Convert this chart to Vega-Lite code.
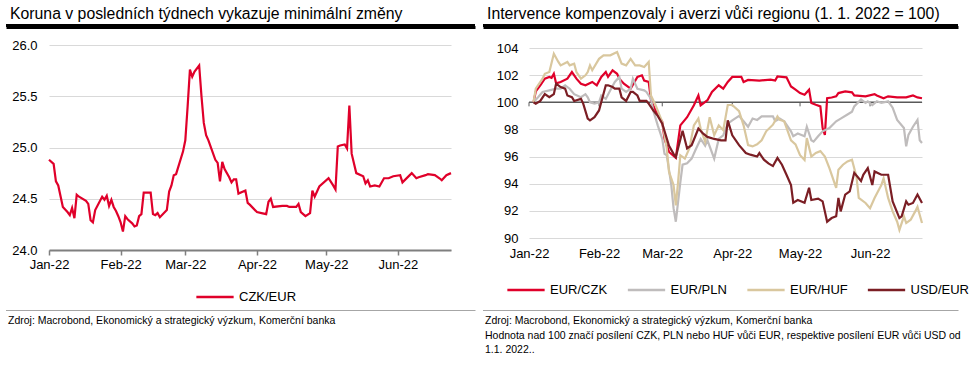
{
  "$schema": "https://vega.github.io/schema/vega-lite/v6.json",
  "padding": {"left": 6, "top": 6, "right": 0, "bottom": 0},
  "resolve": {"scale": {"color": "independent"}, "legend": {"color": "independent"}},
  "config": {
    "font": "Liberation Sans",
    "view": {"stroke": null},
    "title": {"font": "Liberation Sans", "fontWeight": "normal", "color": "#000000"},
    "axis": {"labelFont": "Liberation Sans", "labelFontSize": 13, "labelColor": "#000000"},
    "legend": {"labelFont": "Liberation Sans", "labelFontSize": 13, "labelColor": "#000000"}
  },
  "datasets": {
    "czk": [
      {"d":"2022-01-01","v":24.88},{"d":"2022-01-03","v":24.84},{"d":"2022-01-04","v":24.67},{"d":"2022-01-05","v":24.63},
      {"d":"2022-01-07","v":24.42},{"d":"2022-01-09","v":24.37},{"d":"2022-01-10","v":24.34},{"d":"2022-01-11","v":24.41},
      {"d":"2022-01-12","v":24.31},{"d":"2022-01-13","v":24.54},{"d":"2022-01-14","v":24.52},{"d":"2022-01-17","v":24.48},
      {"d":"2022-01-18","v":24.45},{"d":"2022-01-19","v":24.29},{"d":"2022-01-20","v":24.27},{"d":"2022-01-21","v":24.39},
      {"d":"2022-01-24","v":24.52},{"d":"2022-01-25","v":24.49},{"d":"2022-01-26","v":24.53},{"d":"2022-01-27","v":24.43},
      {"d":"2022-01-28","v":24.49},{"d":"2022-01-29","v":24.42},{"d":"2022-01-30","v":24.38},{"d":"2022-01-31","v":24.33},
      {"d":"2022-02-01","v":24.27},{"d":"2022-02-02","v":24.18},{"d":"2022-02-03","v":24.33},{"d":"2022-02-04","v":24.30},
      {"d":"2022-02-06","v":24.26},{"d":"2022-02-07","v":24.23},{"d":"2022-02-08","v":24.24},{"d":"2022-02-09","v":24.33},
      {"d":"2022-02-10","v":24.35},{"d":"2022-02-11","v":24.56},{"d":"2022-02-14","v":24.56},{"d":"2022-02-15","v":24.35},
      {"d":"2022-02-16","v":24.34},{"d":"2022-02-17","v":24.36},{"d":"2022-02-18","v":24.32},{"d":"2022-02-21","v":24.39},
      {"d":"2022-02-22","v":24.57},{"d":"2022-02-23","v":24.63},{"d":"2022-02-24","v":24.73},{"d":"2022-02-25","v":24.74},
      {"d":"2022-02-28","v":24.96},{"d":"2022-03-01","v":25.07},{"d":"2022-03-02","v":25.40},{"d":"2022-03-03","v":25.76},
      {"d":"2022-03-04","v":25.69},{"d":"2022-03-05","v":25.74},{"d":"2022-03-07","v":25.80},{"d":"2022-03-08","v":25.50},
      {"d":"2022-03-09","v":25.24},{"d":"2022-03-10","v":25.12},{"d":"2022-03-11","v":25.07},{"d":"2022-03-14","v":24.88},
      {"d":"2022-03-15","v":24.85},{"d":"2022-03-16","v":24.67},{"d":"2022-03-17","v":24.86},{"d":"2022-03-18","v":24.79},
      {"d":"2022-03-20","v":24.71},{"d":"2022-03-21","v":24.66},{"d":"2022-03-22","v":24.69},{"d":"2022-03-23","v":24.69},
      {"d":"2022-03-24","v":24.55},{"d":"2022-03-27","v":24.58},{"d":"2022-03-28","v":24.46},{"d":"2022-03-29","v":24.44},
      {"d":"2022-04-01","v":24.37},{"d":"2022-04-03","v":24.36},{"d":"2022-04-05","v":24.35},{"d":"2022-04-06","v":24.47},
      {"d":"2022-04-07","v":24.50},{"d":"2022-04-08","v":24.42},{"d":"2022-04-12","v":24.43},{"d":"2022-04-14","v":24.43},
      {"d":"2022-04-15","v":24.42},{"d":"2022-04-18","v":24.42},{"d":"2022-04-19","v":24.45},{"d":"2022-04-20","v":24.37},
      {"d":"2022-04-22","v":24.33},{"d":"2022-04-24","v":24.36},{"d":"2022-04-25","v":24.58},{"d":"2022-04-26","v":24.52},
      {"d":"2022-04-28","v":24.62},{"d":"2022-05-02","v":24.70},{"d":"2022-05-04","v":24.63},{"d":"2022-05-05","v":24.59},
      {"d":"2022-05-06","v":25.01},{"d":"2022-05-07","v":25.02},{"d":"2022-05-09","v":25.03},{"d":"2022-05-10","v":24.99},
      {"d":"2022-05-11","v":25.41},{"d":"2022-05-12","v":24.94},{"d":"2022-05-14","v":24.75},{"d":"2022-05-17","v":24.72},
      {"d":"2022-05-18","v":24.65},{"d":"2022-05-19","v":24.68},{"d":"2022-05-20","v":24.62},{"d":"2022-05-22","v":24.63},
      {"d":"2022-05-24","v":24.62},{"d":"2022-05-26","v":24.70},{"d":"2022-05-28","v":24.70},{"d":"2022-05-30","v":24.72},
      {"d":"2022-06-02","v":24.73},{"d":"2022-06-03","v":24.66},{"d":"2022-06-07","v":24.75},{"d":"2022-06-09","v":24.70},
      {"d":"2022-06-10","v":24.71},{"d":"2022-06-13","v":24.73},{"d":"2022-06-14","v":24.74},{"d":"2022-06-17","v":24.73},
      {"d":"2022-06-19","v":24.70},{"d":"2022-06-20","v":24.68},{"d":"2022-06-22","v":24.73},{"d":"2022-06-24","v":24.75}
    ],
    "fx": [
      {"d":"2022-01-03","s":"EUR/CZK","v":100},{"d":"2022-01-04","s":"EUR/CZK","v":100.8},{"d":"2022-01-06","s":"EUR/CZK","v":101.25},
      {"d":"2022-01-08","s":"EUR/CZK","v":101.74},{"d":"2022-01-10","s":"EUR/CZK","v":101.87},{"d":"2022-01-11","s":"EUR/CZK","v":101.8},
      {"d":"2022-01-12","s":"EUR/CZK","v":102.1},{"d":"2022-01-13","s":"EUR/CZK","v":101.4},{"d":"2022-01-15","s":"EUR/CZK","v":101.5},
      {"d":"2022-01-18","s":"EUR/CZK","v":101.74},{"d":"2022-01-20","s":"EUR/CZK","v":102.23},{"d":"2022-01-22","s":"EUR/CZK","v":101.74},
      {"d":"2022-01-24","s":"EUR/CZK","v":101.37},{"d":"2022-01-26","s":"EUR/CZK","v":101.25},{"d":"2022-01-29","s":"EUR/CZK","v":101.5},
      {"d":"2022-01-31","s":"EUR/CZK","v":101.25},{"d":"2022-02-02","s":"EUR/CZK","v":101.87},{"d":"2022-02-04","s":"EUR/CZK","v":102.23},
      {"d":"2022-02-05","s":"EUR/CZK","v":101.87},{"d":"2022-02-07","s":"EUR/CZK","v":102.35},{"d":"2022-02-09","s":"EUR/CZK","v":102.1},
      {"d":"2022-02-10","s":"EUR/CZK","v":101.74},{"d":"2022-02-12","s":"EUR/CZK","v":101.37},{"d":"2022-02-15","s":"EUR/CZK","v":101.0},
      {"d":"2022-02-18","s":"EUR/CZK","v":101.87},{"d":"2022-02-20","s":"EUR/CZK","v":101.99},{"d":"2022-02-21","s":"EUR/CZK","v":101.6},
      {"d":"2022-02-23","s":"EUR/CZK","v":101.5},{"d":"2022-02-24","s":"EUR/CZK","v":100.15},{"d":"2022-02-26","s":"EUR/CZK","v":99.4},
      {"d":"2022-03-01","s":"EUR/CZK","v":98.55},{"d":"2022-03-02","s":"EUR/CZK","v":97.3},{"d":"2022-03-04","s":"EUR/CZK","v":96.34},
      {"d":"2022-03-07","s":"EUR/CZK","v":95.9},{"d":"2022-03-09","s":"EUR/CZK","v":98.3},{"d":"2022-03-12","s":"EUR/CZK","v":98.9},
      {"d":"2022-03-15","s":"EUR/CZK","v":99.78},{"d":"2022-03-17","s":"EUR/CZK","v":100.5},{"d":"2022-03-18","s":"EUR/CZK","v":99.78},
      {"d":"2022-03-21","s":"EUR/CZK","v":100.15},{"d":"2022-03-23","s":"EUR/CZK","v":100.76},{"d":"2022-03-26","s":"EUR/CZK","v":101.25},
      {"d":"2022-03-28","s":"EUR/CZK","v":101.0},{"d":"2022-03-30","s":"EUR/CZK","v":101.5},{"d":"2022-04-01","s":"EUR/CZK","v":101.87},
      {"d":"2022-04-05","s":"EUR/CZK","v":101.87},{"d":"2022-04-06","s":"EUR/CZK","v":101.5},{"d":"2022-04-08","s":"EUR/CZK","v":101.65},
      {"d":"2022-04-13","s":"EUR/CZK","v":101.6},{"d":"2022-04-18","s":"EUR/CZK","v":101.67},{"d":"2022-04-20","s":"EUR/CZK","v":101.6},
      {"d":"2022-04-21","s":"EUR/CZK","v":101.9},{"d":"2022-04-25","s":"EUR/CZK","v":101.84},{"d":"2022-04-27","s":"EUR/CZK","v":101.17},
      {"d":"2022-04-29","s":"EUR/CZK","v":100.93},{"d":"2022-05-01","s":"EUR/CZK","v":100.68},{"d":"2022-05-03","s":"EUR/CZK","v":100.56},
      {"d":"2022-05-05","s":"EUR/CZK","v":100.93},{"d":"2022-05-06","s":"EUR/CZK","v":99.95},{"d":"2022-05-08","s":"EUR/CZK","v":99.82},
      {"d":"2022-05-10","s":"EUR/CZK","v":99.7},{"d":"2022-05-11","s":"EUR/CZK","v":98.1},{"d":"2022-05-12","s":"EUR/CZK","v":97.6},
      {"d":"2022-05-13","s":"EUR/CZK","v":100.3},{"d":"2022-05-15","s":"EUR/CZK","v":100.35},{"d":"2022-05-17","s":"EUR/CZK","v":100.44},
      {"d":"2022-05-18","s":"EUR/CZK","v":100.68},{"d":"2022-05-21","s":"EUR/CZK","v":100.8},{"d":"2022-05-24","s":"EUR/CZK","v":100.73},
      {"d":"2022-05-25","s":"EUR/CZK","v":100.51},{"d":"2022-05-30","s":"EUR/CZK","v":100.44},{"d":"2022-06-03","s":"EUR/CZK","v":100.6},
      {"d":"2022-06-04","s":"EUR/CZK","v":100.5},{"d":"2022-06-07","s":"EUR/CZK","v":100.3},{"d":"2022-06-09","s":"EUR/CZK","v":100.44},
      {"d":"2022-06-13","s":"EUR/CZK","v":100.36},{"d":"2022-06-17","s":"EUR/CZK","v":100.36},{"d":"2022-06-20","s":"EUR/CZK","v":100.5},
      {"d":"2022-06-22","s":"EUR/CZK","v":100.36},{"d":"2022-06-24","s":"EUR/CZK","v":100.3},

      {"d":"2022-01-03","s":"EUR/PLN","v":100},{"d":"2022-01-05","s":"EUR/PLN","v":100.37},{"d":"2022-01-07","s":"EUR/PLN","v":100.76},
      {"d":"2022-01-10","s":"EUR/PLN","v":100.88},{"d":"2022-01-13","s":"EUR/PLN","v":101.0},{"d":"2022-01-15","s":"EUR/PLN","v":101.0},
      {"d":"2022-01-17","s":"EUR/PLN","v":101.25},{"d":"2022-01-19","s":"EUR/PLN","v":101.0},{"d":"2022-01-21","s":"EUR/PLN","v":100.6},
      {"d":"2022-01-24","s":"EUR/PLN","v":100.37},{"d":"2022-01-26","s":"EUR/PLN","v":100.6},{"d":"2022-01-27","s":"EUR/PLN","v":100.37},
      {"d":"2022-01-28","s":"EUR/PLN","v":100.0},{"d":"2022-01-30","s":"EUR/PLN","v":99.9},{"d":"2022-02-01","s":"EUR/PLN","v":100.0},
      {"d":"2022-02-02","s":"EUR/PLN","v":100.5},{"d":"2022-02-04","s":"EUR/PLN","v":100.25},{"d":"2022-02-06","s":"EUR/PLN","v":100.88},
      {"d":"2022-02-08","s":"EUR/PLN","v":101.5},{"d":"2022-02-10","s":"EUR/PLN","v":101.87},{"d":"2022-02-11","s":"EUR/PLN","v":101.0},
      {"d":"2022-02-13","s":"EUR/PLN","v":100.76},{"d":"2022-02-15","s":"EUR/PLN","v":101.0},{"d":"2022-02-16","s":"EUR/PLN","v":101.74},
      {"d":"2022-02-18","s":"EUR/PLN","v":101.0},{"d":"2022-02-21","s":"EUR/PLN","v":100.88},{"d":"2022-02-22","s":"EUR/PLN","v":100.76},
      {"d":"2022-02-24","s":"EUR/PLN","v":100.25},{"d":"2022-02-25","s":"EUR/PLN","v":99.4},{"d":"2022-02-27","s":"EUR/PLN","v":98.3},
      {"d":"2022-03-01","s":"EUR/PLN","v":97.3},{"d":"2022-03-02","s":"EUR/PLN","v":96.2},{"d":"2022-03-03","s":"EUR/PLN","v":96.1},
      {"d":"2022-03-05","s":"EUR/PLN","v":93.9},{"d":"2022-03-06","s":"EUR/PLN","v":92.2},{"d":"2022-03-07","s":"EUR/PLN","v":91.2},
      {"d":"2022-03-09","s":"EUR/PLN","v":94.1},{"d":"2022-03-10","s":"EUR/PLN","v":95.4},{"d":"2022-03-12","s":"EUR/PLN","v":95.5},
      {"d":"2022-03-14","s":"EUR/PLN","v":95.85},{"d":"2022-03-16","s":"EUR/PLN","v":96.6},{"d":"2022-03-18","s":"EUR/PLN","v":97.3},
      {"d":"2022-03-20","s":"EUR/PLN","v":96.8},{"d":"2022-03-21","s":"EUR/PLN","v":97.2},{"d":"2022-03-24","s":"EUR/PLN","v":95.85},
      {"d":"2022-03-26","s":"EUR/PLN","v":97.3},{"d":"2022-03-28","s":"EUR/PLN","v":97.57},{"d":"2022-03-30","s":"EUR/PLN","v":98.43},
      {"d":"2022-04-01","s":"EUR/PLN","v":98.67},{"d":"2022-04-04","s":"EUR/PLN","v":99.0},{"d":"2022-04-06","s":"EUR/PLN","v":98.6},
      {"d":"2022-04-08","s":"EUR/PLN","v":98.2},{"d":"2022-04-10","s":"EUR/PLN","v":98.8},{"d":"2022-04-12","s":"EUR/PLN","v":98.7},
      {"d":"2022-04-14","s":"EUR/PLN","v":98.96},{"d":"2022-04-16","s":"EUR/PLN","v":98.96},{"d":"2022-04-19","s":"EUR/PLN","v":98.96},
      {"d":"2022-04-20","s":"EUR/PLN","v":98.6},{"d":"2022-04-22","s":"EUR/PLN","v":98.8},{"d":"2022-04-24","s":"EUR/PLN","v":98.6},
      {"d":"2022-04-27","s":"EUR/PLN","v":97.86},{"d":"2022-04-28","s":"EUR/PLN","v":97.5},{"d":"2022-04-30","s":"EUR/PLN","v":97.7},
      {"d":"2022-05-03","s":"EUR/PLN","v":97.5},{"d":"2022-05-04","s":"EUR/PLN","v":98.2},{"d":"2022-05-06","s":"EUR/PLN","v":97.2},
      {"d":"2022-05-07","s":"EUR/PLN","v":97.1},{"d":"2022-05-09","s":"EUR/PLN","v":97.5},{"d":"2022-05-11","s":"EUR/PLN","v":97.86},
      {"d":"2022-05-14","s":"EUR/PLN","v":98.1},{"d":"2022-05-17","s":"EUR/PLN","v":98.6},{"d":"2022-05-19","s":"EUR/PLN","v":98.8},
      {"d":"2022-05-22","s":"EUR/PLN","v":99.1},{"d":"2022-05-24","s":"EUR/PLN","v":99.3},{"d":"2022-05-25","s":"EUR/PLN","v":99.7},
      {"d":"2022-05-28","s":"EUR/PLN","v":100.2},{"d":"2022-05-30","s":"EUR/PLN","v":99.95},{"d":"2022-05-31","s":"EUR/PLN","v":100.07},
      {"d":"2022-06-02","s":"EUR/PLN","v":99.8},{"d":"2022-06-04","s":"EUR/PLN","v":100.07},{"d":"2022-06-06","s":"EUR/PLN","v":99.95},
      {"d":"2022-06-09","s":"EUR/PLN","v":100.07},{"d":"2022-06-11","s":"EUR/PLN","v":99.6},{"d":"2022-06-13","s":"EUR/PLN","v":98.7},
      {"d":"2022-06-16","s":"EUR/PLN","v":98.1},{"d":"2022-06-17","s":"EUR/PLN","v":96.75},{"d":"2022-06-18","s":"EUR/PLN","v":97.6},
      {"d":"2022-06-20","s":"EUR/PLN","v":98.2},{"d":"2022-06-22","s":"EUR/PLN","v":98.7},{"d":"2022-06-23","s":"EUR/PLN","v":97.2},
      {"d":"2022-06-24","s":"EUR/PLN","v":97.0},

      {"d":"2022-01-03","s":"EUR/HUF","v":100},{"d":"2022-01-04","s":"EUR/HUF","v":101.0},{"d":"2022-01-07","s":"EUR/HUF","v":101.74},
      {"d":"2022-01-08","s":"EUR/HUF","v":102.1},{"d":"2022-01-10","s":"EUR/HUF","v":102.23},{"d":"2022-01-12","s":"EUR/HUF","v":103.58},
      {"d":"2022-01-14","s":"EUR/HUF","v":102.97},{"d":"2022-01-15","s":"EUR/HUF","v":102.72},{"d":"2022-01-18","s":"EUR/HUF","v":102.97},
      {"d":"2022-01-19","s":"EUR/HUF","v":102.72},{"d":"2022-01-21","s":"EUR/HUF","v":102.85},{"d":"2022-01-22","s":"EUR/HUF","v":102.23},
      {"d":"2022-01-24","s":"EUR/HUF","v":101.74},{"d":"2022-01-26","s":"EUR/HUF","v":101.99},{"d":"2022-01-27","s":"EUR/HUF","v":102.23},
      {"d":"2022-01-28","s":"EUR/HUF","v":102.72},{"d":"2022-01-29","s":"EUR/HUF","v":102.36},{"d":"2022-02-01","s":"EUR/HUF","v":103.2},
      {"d":"2022-02-03","s":"EUR/HUF","v":103.46},{"d":"2022-02-06","s":"EUR/HUF","v":103.46},{"d":"2022-02-09","s":"EUR/HUF","v":103.7},
      {"d":"2022-02-11","s":"EUR/HUF","v":102.85},{"d":"2022-02-13","s":"EUR/HUF","v":102.72},{"d":"2022-02-15","s":"EUR/HUF","v":103.2},
      {"d":"2022-02-17","s":"EUR/HUF","v":102.72},{"d":"2022-02-19","s":"EUR/HUF","v":102.72},{"d":"2022-02-21","s":"EUR/HUF","v":102.6},
      {"d":"2022-02-23","s":"EUR/HUF","v":102.97},{"d":"2022-02-24","s":"EUR/HUF","v":100.5},{"d":"2022-02-26","s":"EUR/HUF","v":99.8},
      {"d":"2022-03-01","s":"EUR/HUF","v":98.55},{"d":"2022-03-03","s":"EUR/HUF","v":96.6},{"d":"2022-03-04","s":"EUR/HUF","v":94.87},
      {"d":"2022-03-06","s":"EUR/HUF","v":93.9},{"d":"2022-03-07","s":"EUR/HUF","v":92.4},{"d":"2022-03-08","s":"EUR/HUF","v":94.1},
      {"d":"2022-03-09","s":"EUR/HUF","v":96.1},{"d":"2022-03-11","s":"EUR/HUF","v":95.85},{"d":"2022-03-13","s":"EUR/HUF","v":96.6},
      {"d":"2022-03-15","s":"EUR/HUF","v":98.3},{"d":"2022-03-17","s":"EUR/HUF","v":98.8},{"d":"2022-03-18","s":"EUR/HUF","v":98.06},
      {"d":"2022-03-20","s":"EUR/HUF","v":97.1},{"d":"2022-03-22","s":"EUR/HUF","v":98.9},{"d":"2022-03-24","s":"EUR/HUF","v":97.57},
      {"d":"2022-03-26","s":"EUR/HUF","v":98.3},{"d":"2022-03-28","s":"EUR/HUF","v":97.94},{"d":"2022-03-30","s":"EUR/HUF","v":99.8},
      {"d":"2022-04-01","s":"EUR/HUF","v":99.8},{"d":"2022-04-04","s":"EUR/HUF","v":99.35},{"d":"2022-04-06","s":"EUR/HUF","v":98.3},
      {"d":"2022-04-08","s":"EUR/HUF","v":96.85},{"d":"2022-04-10","s":"EUR/HUF","v":96.75},{"d":"2022-04-12","s":"EUR/HUF","v":96.9},
      {"d":"2022-04-14","s":"EUR/HUF","v":97.2},{"d":"2022-04-16","s":"EUR/HUF","v":97.86},{"d":"2022-04-19","s":"EUR/HUF","v":98.35},
      {"d":"2022-04-21","s":"EUR/HUF","v":98.96},{"d":"2022-04-22","s":"EUR/HUF","v":98.7},{"d":"2022-04-24","s":"EUR/HUF","v":98.6},
      {"d":"2022-04-27","s":"EUR/HUF","v":97.2},{"d":"2022-04-29","s":"EUR/HUF","v":96.9},{"d":"2022-05-01","s":"EUR/HUF","v":96.1},
      {"d":"2022-05-03","s":"EUR/HUF","v":95.75},{"d":"2022-05-04","s":"EUR/HUF","v":97.36},{"d":"2022-05-06","s":"EUR/HUF","v":96.0},
      {"d":"2022-05-08","s":"EUR/HUF","v":96.27},{"d":"2022-05-10","s":"EUR/HUF","v":96.4},{"d":"2022-05-12","s":"EUR/HUF","v":96.0},
      {"d":"2022-05-14","s":"EUR/HUF","v":95.15},{"d":"2022-05-17","s":"EUR/HUF","v":93.7},{"d":"2022-05-18","s":"EUR/HUF","v":95.03},
      {"d":"2022-05-20","s":"EUR/HUF","v":95.4},{"d":"2022-05-22","s":"EUR/HUF","v":95.64},{"d":"2022-05-24","s":"EUR/HUF","v":95.77},
      {"d":"2022-05-26","s":"EUR/HUF","v":94.5},{"d":"2022-05-27","s":"EUR/HUF","v":92.95},{"d":"2022-05-30","s":"EUR/HUF","v":92.58},
      {"d":"2022-06-01","s":"EUR/HUF","v":92.2},{"d":"2022-06-03","s":"EUR/HUF","v":92.95},{"d":"2022-06-06","s":"EUR/HUF","v":93.9},
      {"d":"2022-06-07","s":"EUR/HUF","v":94.4},{"d":"2022-06-09","s":"EUR/HUF","v":92.95},{"d":"2022-06-11","s":"EUR/HUF","v":91.96},
      {"d":"2022-06-13","s":"EUR/HUF","v":91.2},{"d":"2022-06-14","s":"EUR/HUF","v":90.6},{"d":"2022-06-16","s":"EUR/HUF","v":91.6},
      {"d":"2022-06-17","s":"EUR/HUF","v":91.1},{"d":"2022-06-19","s":"EUR/HUF","v":91.35},{"d":"2022-06-21","s":"EUR/HUF","v":91.96},
      {"d":"2022-06-22","s":"EUR/HUF","v":92.3},{"d":"2022-06-23","s":"EUR/HUF","v":91.7},{"d":"2022-06-24","s":"EUR/HUF","v":91.1},

      {"d":"2022-01-03","s":"USD/EUR","v":100},{"d":"2022-01-04","s":"USD/EUR","v":99.9},{"d":"2022-01-06","s":"USD/EUR","v":100.1},
      {"d":"2022-01-08","s":"USD/EUR","v":100.6},{"d":"2022-01-10","s":"USD/EUR","v":100.37},{"d":"2022-01-12","s":"USD/EUR","v":100.6},
      {"d":"2022-01-13","s":"USD/EUR","v":101.37},{"d":"2022-01-15","s":"USD/EUR","v":101.12},{"d":"2022-01-17","s":"USD/EUR","v":101.0},
      {"d":"2022-01-18","s":"USD/EUR","v":100.5},{"d":"2022-01-20","s":"USD/EUR","v":100.37},{"d":"2022-01-21","s":"USD/EUR","v":100.1},
      {"d":"2022-01-24","s":"USD/EUR","v":100.25},{"d":"2022-01-25","s":"USD/EUR","v":99.9},{"d":"2022-01-27","s":"USD/EUR","v":98.8},
      {"d":"2022-01-28","s":"USD/EUR","v":98.67},{"d":"2022-01-30","s":"USD/EUR","v":98.9},{"d":"2022-02-01","s":"USD/EUR","v":99.4},
      {"d":"2022-02-04","s":"USD/EUR","v":101.25},{"d":"2022-02-05","s":"USD/EUR","v":101.25},{"d":"2022-02-07","s":"USD/EUR","v":101.12},
      {"d":"2022-02-08","s":"USD/EUR","v":101.0},{"d":"2022-02-10","s":"USD/EUR","v":101.0},{"d":"2022-02-11","s":"USD/EUR","v":100.37},
      {"d":"2022-02-13","s":"USD/EUR","v":100.1},{"d":"2022-02-15","s":"USD/EUR","v":100.76},{"d":"2022-02-16","s":"USD/EUR","v":100.76},
      {"d":"2022-02-18","s":"USD/EUR","v":100.5},{"d":"2022-02-19","s":"USD/EUR","v":100.1},{"d":"2022-02-22","s":"USD/EUR","v":100.1},
      {"d":"2022-02-23","s":"USD/EUR","v":99.9},{"d":"2022-02-25","s":"USD/EUR","v":99.4},{"d":"2022-02-27","s":"USD/EUR","v":99.0},
      {"d":"2022-03-01","s":"USD/EUR","v":98.43},{"d":"2022-03-04","s":"USD/EUR","v":96.8},{"d":"2022-03-06","s":"USD/EUR","v":96.2},
      {"d":"2022-03-07","s":"USD/EUR","v":95.97},{"d":"2022-03-10","s":"USD/EUR","v":97.9},{"d":"2022-03-12","s":"USD/EUR","v":96.6},
      {"d":"2022-03-14","s":"USD/EUR","v":96.84},{"d":"2022-03-17","s":"USD/EUR","v":98.06},{"d":"2022-03-19","s":"USD/EUR","v":97.7},
      {"d":"2022-03-21","s":"USD/EUR","v":97.45},{"d":"2022-03-24","s":"USD/EUR","v":97.3},{"d":"2022-03-27","s":"USD/EUR","v":97.2},
      {"d":"2022-03-29","s":"USD/EUR","v":97.2},{"d":"2022-03-30","s":"USD/EUR","v":98.67},{"d":"2022-04-01","s":"USD/EUR","v":97.57},
      {"d":"2022-04-04","s":"USD/EUR","v":96.84},{"d":"2022-04-07","s":"USD/EUR","v":96.26},{"d":"2022-04-09","s":"USD/EUR","v":96.14},
      {"d":"2022-04-12","s":"USD/EUR","v":96.0},{"d":"2022-04-13","s":"USD/EUR","v":96.26},{"d":"2022-04-15","s":"USD/EUR","v":95.77},
      {"d":"2022-04-17","s":"USD/EUR","v":95.5},{"d":"2022-04-19","s":"USD/EUR","v":95.3},{"d":"2022-04-21","s":"USD/EUR","v":95.9},
      {"d":"2022-04-23","s":"USD/EUR","v":95.4},{"d":"2022-04-25","s":"USD/EUR","v":94.66},{"d":"2022-04-27","s":"USD/EUR","v":93.9},
      {"d":"2022-04-28","s":"USD/EUR","v":92.6},{"d":"2022-04-30","s":"USD/EUR","v":92.8},{"d":"2022-05-03","s":"USD/EUR","v":92.6},
      {"d":"2022-05-05","s":"USD/EUR","v":93.7},{"d":"2022-05-06","s":"USD/EUR","v":92.8},{"d":"2022-05-09","s":"USD/EUR","v":92.9},
      {"d":"2022-05-11","s":"USD/EUR","v":92.7},{"d":"2022-05-13","s":"USD/EUR","v":91.2},{"d":"2022-05-15","s":"USD/EUR","v":91.47},
      {"d":"2022-05-17","s":"USD/EUR","v":91.6},{"d":"2022-05-18","s":"USD/EUR","v":92.95},{"d":"2022-05-19","s":"USD/EUR","v":91.96},
      {"d":"2022-05-21","s":"USD/EUR","v":93.2},{"d":"2022-05-23","s":"USD/EUR","v":93.43},{"d":"2022-05-25","s":"USD/EUR","v":94.8},
      {"d":"2022-05-28","s":"USD/EUR","v":94.2},{"d":"2022-05-29","s":"USD/EUR","v":94.66},{"d":"2022-05-31","s":"USD/EUR","v":95.15},
      {"d":"2022-06-02","s":"USD/EUR","v":93.9},{"d":"2022-06-03","s":"USD/EUR","v":94.9},{"d":"2022-06-06","s":"USD/EUR","v":94.66},
      {"d":"2022-06-09","s":"USD/EUR","v":94.66},{"d":"2022-06-11","s":"USD/EUR","v":92.7},{"d":"2022-06-14","s":"USD/EUR","v":91.47},
      {"d":"2022-06-15","s":"USD/EUR","v":91.6},{"d":"2022-06-17","s":"USD/EUR","v":92.7},{"d":"2022-06-18","s":"USD/EUR","v":92.45},
      {"d":"2022-06-20","s":"USD/EUR","v":92.58},{"d":"2022-06-22","s":"USD/EUR","v":93.2},{"d":"2022-06-24","s":"USD/EUR","v":92.58}
    ],
    "base": [{"v": 100}],
    "months": [
      {"d":"2022-01-01","v":100,"v2":99.7},{"d":"2022-02-01","v":100,"v2":99.7},{"d":"2022-03-01","v":100,"v2":99.7},
      {"d":"2022-04-01","v":100,"v2":99.7},{"d":"2022-05-01","v":100,"v2":99.7},{"d":"2022-06-01","v":100,"v2":99.7}
    ],
    "band": [{"a": 0, "b": 1}]
  },
  "spacing": -35,
  "hconcat": [
    {
      "columns": 1, "spacing": 12,
      "concat": [
        {
          "width": 426, "height": 3,
          "data": {"name": "band"},
          "mark": {"type": "rect", "color": "#000000"},
          "encoding": {
            "x": {"field": "a", "type": "quantitative", "scale": {"domain": [0, 1], "range": [-43, 426]},
                  "axis": {"orient": "bottom", "title": null, "domain": true, "domainColor": "#000000", "domainWidth": 3, "ticks": false, "labels": false, "grid": false}},
            "x2": {"field": "b"},
            "y": {"field": "a", "type": "quantitative", "scale": {"domain": [0, 1]}, "axis": null},
            "y2": {"field": "b"}
          },
          "title": {"text": "Koruna v posledních týdnech vykazuje minimální změny", "anchor": "start", "fontSize": 15.8, "offset": 1, "dx": 4}
        },
        {
          "columns": 1, "spacing": 39,
          "concat": [
            {
              "width": 402, "height": 205,
              "data": {"name": "czk"},
              "mark": {"type": "line", "strokeWidth": 2.2},
              "encoding": {
                "x": {"field": "d", "type": "temporal", "title": null,
                      "scale": {"type": "utc", "domain": [{"year":2022,"month":1,"date":1,"utc":true},{"year":2022,"month":6,"date":24,"utc":true}]},
                      "axis": {"values": [{"year":2022,"month":1,"date":1,"utc":true},{"year":2022,"month":2,"date":1,"utc":true},{"year":2022,"month":3,"date":1,"utc":true},{"year":2022,"month":4,"date":1,"utc":true},{"year":2022,"month":5,"date":1,"utc":true},{"year":2022,"month":6,"date":1,"utc":true}],
                               "format": "%b-%y", "labelFlush": false, "labelOverlap": false, "grid": false,
                               "domain": true, "domainColor": "#7f7f7f", "domainWidth": 2,
                               "ticks": true, "tickColor": "#7f7f7f", "tickSize": 5, "tickWidth": 1.5, "labelPadding": 3}},
                "y": {"field": "v", "type": "quantitative", "title": null,
                      "scale": {"domain": [24, 26], "nice": false, "zero": false},
                      "axis": {"values": [24, 24.5, 25, 25.5, 26], "format": ".1f", "domain": false, "ticks": false, "tickSize": 0, "labelOverlap": false,
                               "grid": true, "gridColor": "#d9d9d9", "gridWidth": 1, "labelPadding": 12, "minExtent": 43, "maxExtent": 43}},
                "color": {"datum": "CZK/EUR", "type": "nominal",
                          "scale": {"domain": ["CZK/EUR"], "range": ["#E0002A"]},
                          "legend": {"title": null, "orient": "none", "legendX": 146, "legendY": 253, "direction": "horizontal",
                                     "symbolType": "stroke", "symbolSize": 1390, "symbolStrokeWidth": 2.5, "labelOffset": 4, "padding": 0}}
              }
            },
            {
              "width": 426, "height": 1,
              "data": {"name": "band"},
              "mark": {"type": "rect", "color": "#a6a6a6"},
              "encoding": {
                "x": {"field": "a", "type": "quantitative", "scale": {"domain": [0, 1], "range": [-43, 426]},
                      "axis": {"orient": "top", "title": null, "domain": true, "domainColor": "#a6a6a6", "domainWidth": 1, "ticks": false, "labels": false, "grid": false}},
                "x2": {"field": "b"},
                "y": {"field": "a", "type": "quantitative", "scale": {"domain": [0, 1]}, "axis": null},
                "y2": {"field": "b"}
              },
              "title": {"text": ["Zdroj: Macrobond, Ekonomický a strategický výzkum, Komerční banka"], "orient": "bottom", "anchor": "start",
                        "fontSize": 10.5, "offset": 5, "dx": 2, "lineHeight": 14.6}
            }
          ]
        }
      ]
    },
    {
      "columns": 1, "spacing": 15,
      "concat": [
        {
          "width": 429, "height": 3,
          "data": {"name": "band"},
          "mark": {"type": "rect", "color": "#000000"},
          "encoding": {
            "x": {"field": "a", "type": "quantitative", "scale": {"domain": [0, 1], "range": [-46, 429]},
                  "axis": {"orient": "bottom", "title": null, "domain": true, "domainColor": "#000000", "domainWidth": 3, "ticks": false, "labels": false, "grid": false}},
            "x2": {"field": "b"},
            "y": {"field": "a", "type": "quantitative", "scale": {"domain": [0, 1]}, "axis": null},
            "y2": {"field": "b"}
          },
          "title": {"text": "Intervence kompenzovaly i averzi vůči regionu (1. 1. 2022 = 100)", "anchor": "start", "fontSize": 15.8, "offset": 1, "dx": 4}
        },
        {
          "columns": 1, "spacing": 50,
          "concat": [
            {
              "width": 393, "height": 190,
              "layer": [
                {
                  "data": {"name": "base"},
                  "mark": {"type": "rule", "color": "#595959", "strokeWidth": 1.5},
                  "encoding": {
                    "y": {"field": "v", "type": "quantitative", "title": null,
                          "scale": {"domain": [90, 104], "nice": false, "zero": false},
                          "axis": {"values": [90, 92, 94, 96, 98, 100, 102, 104], "domain": false, "ticks": false, "tickSize": 0, "grid": true, "labelOverlap": false,
                                   "gridColor": "#d9d9d9", "labelPadding": 11, "minExtent": 46, "maxExtent": 46}}
                  }
                },
                {
                  "data": {"name": "months"},
                  "mark": {"type": "rule", "color": "#595959", "strokeWidth": 1},
                  "encoding": {
                    "x": {"field": "d", "type": "temporal", "title": null,
                          "scale": {"type": "utc", "domain": [{"year":2022,"month":1,"date":1,"utc":true},{"year":2022,"month":6,"date":24,"utc":true}]},
                          "axis": {"values": [{"year":2022,"month":1,"date":1,"utc":true},{"year":2022,"month":2,"date":1,"utc":true},{"year":2022,"month":3,"date":1,"utc":true},{"year":2022,"month":4,"date":1,"utc":true},{"year":2022,"month":5,"date":1,"utc":true},{"year":2022,"month":6,"date":1,"utc":true}],
                                   "format": "%b-%y", "labelFlush": false, "labelOverlap": false, "grid": false,
                                   "domain": false, "ticks": false, "tickSize": 0, "labelPadding": 9}},
                    "y": {"field": "v", "type": "quantitative", "title": null,
                          "scale": {"domain": [90, 104], "nice": false, "zero": false},
                          "axis": {"values": [90, 92, 94, 96, 98, 100, 102, 104], "domain": false, "ticks": false, "tickSize": 0, "grid": true, "labelOverlap": false,
                                   "gridColor": "#d9d9d9", "labelPadding": 11, "minExtent": 46, "maxExtent": 46}},
                    "y2": {"field": "v2"}
                  }
                },
                {
                  "data": {"name": "fx"},
                  "mark": {"type": "line", "strokeWidth": 2.2},
                  "encoding": {
                    "x": {"field": "d", "type": "temporal", "title": null,
                          "scale": {"type": "utc", "domain": [{"year":2022,"month":1,"date":1,"utc":true},{"year":2022,"month":6,"date":24,"utc":true}]},
                          "axis": {"values": [{"year":2022,"month":1,"date":1,"utc":true},{"year":2022,"month":2,"date":1,"utc":true},{"year":2022,"month":3,"date":1,"utc":true},{"year":2022,"month":4,"date":1,"utc":true},{"year":2022,"month":5,"date":1,"utc":true},{"year":2022,"month":6,"date":1,"utc":true}],
                                   "format": "%b-%y", "labelFlush": false, "labelOverlap": false, "grid": false,
                                   "domain": false, "ticks": false, "tickSize": 0, "labelPadding": 9}},
                    "y": {"field": "v", "type": "quantitative", "title": null,
                          "scale": {"domain": [90, 104], "nice": false, "zero": false},
                          "axis": {"values": [90, 92, 94, 96, 98, 100, 102, 104], "domain": false, "ticks": false, "tickSize": 0, "grid": true, "labelOverlap": false,
                                   "gridColor": "#d9d9d9", "labelPadding": 11, "minExtent": 46, "maxExtent": 46}},
                    "color": {"field": "s", "type": "nominal",
                              "scale": {"domain": ["EUR/CZK", "EUR/PLN", "EUR/HUF", "USD/EUR"], "range": ["#E0002A", "#BFBCBC", "#D9C79E", "#7B1E24"]},
                              "legend": {"title": null, "orient": "none", "legendX": -23, "legendY": 246, "direction": "horizontal",
                                         "symbolType": "stroke", "symbolSize": 1390, "symbolStrokeWidth": 2.5, "labelOffset": 4,
                                         "columnPadding": 14.5, "padding": 0}}
                  }
                }
              ]
            },
            {
              "width": 429, "height": 1,
              "data": {"name": "band"},
              "mark": {"type": "rect", "color": "#a6a6a6"},
              "encoding": {
                "x": {"field": "a", "type": "quantitative", "scale": {"domain": [0, 1], "range": [-46, 429]},
                      "axis": {"orient": "top", "title": null, "domain": true, "domainColor": "#a6a6a6", "domainWidth": 1, "ticks": false, "labels": false, "grid": false}},
                "x2": {"field": "b"},
                "y": {"field": "a", "type": "quantitative", "scale": {"domain": [0, 1]}, "axis": null},
                "y2": {"field": "b"}
              },
              "title": {"text": ["Zdroj: Macrobond, Ekonomický a strategický výzkum, Komerční banka", "Hodnota nad 100 značí posílení CZK, PLN nebo HUF vůči EUR, respektive posílení EUR vůči USD od", "1.1. 2022.."],
                        "orient": "bottom", "anchor": "start", "fontSize": 10.5, "offset": 5, "dx": 2, "lineHeight": 14.6}
            }
          ]
        }
      ]
    }
  ]
}
